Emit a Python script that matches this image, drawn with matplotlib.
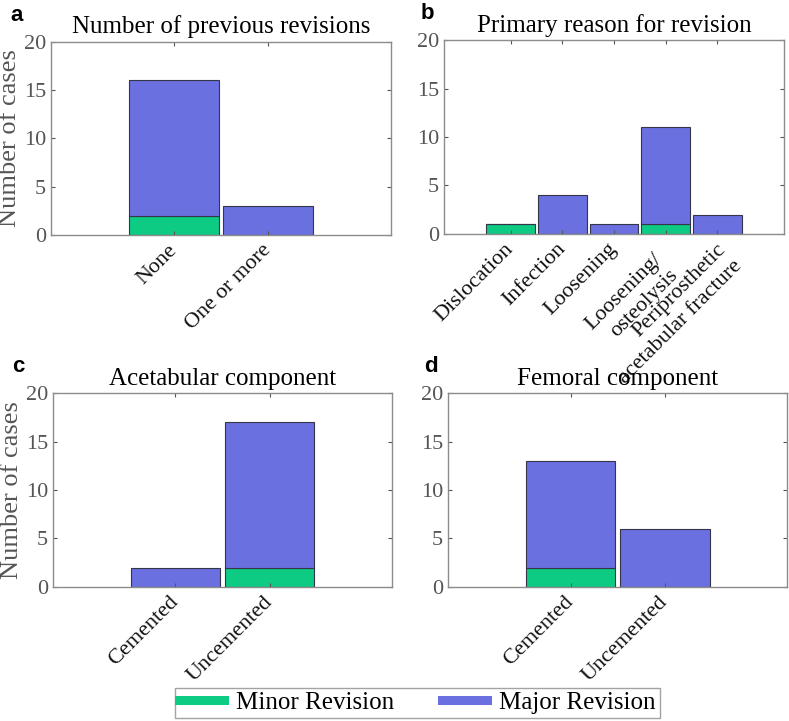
import numpy as np
import matplotlib.pyplot as plt
import matplotlib.transforms as mtransforms
from matplotlib.lines import Line2D

# panel a
prev_cats = ["None", "One or more"]
prev_minor = [2, 0]
prev_major = [14, 3]

# panel b
reason_cats = ["Dislocation", "Infection", "Loosening",
               "Loosening/\nosteolysis", "Periprosthetic\nacetabular fracture"]
reason_minor = [1, 0, 0, 1, 0]
reason_major = [0, 4, 1, 10, 2]

# panel c
acet_cats = ["Cemented", "Uncemented"]
acet_minor = [0, 2]
acet_major = [2, 15]

# panel d
fem_cats = ["Cemented", "Uncemented"]
fem_minor = [2, 0]
fem_major = [11, 6]

GREEN = "#0ecb83"
BLUE = "#6b70e0"
EDGE = "#35354a"

plt.rcParams['font.family'] = ['Liberation Serif', 'DejaVu Serif']


def draw_panel(ax, cats, minor, major, title, letter, ylabel=False, shifts=None):
    x = np.arange(1, len(cats) + 1)
    minor = np.array(minor)
    major = np.array(major)
    ax.bar(x, minor, width=0.95, color=GREEN, edgecolor=EDGE, linewidth=0.8)
    ax.bar(x, major, width=0.95, bottom=minor, color=BLUE, edgecolor=EDGE, linewidth=0.8)
    ax.set_xlim(1 - 1.3, len(cats) + 1.3)
    ax.set_ylim(0, 20)
    ax.set_yticks([0, 5, 10, 15, 20])
    ax.set_xticks(x)
    labels = ax.set_xticklabels(cats, rotation=45, ha='right', va='center',
                                rotation_mode='anchor', fontsize=16, color='#111111',
                                multialignment='right', linespacing=1.25)
    ax.tick_params(axis='x', direction='in', length=3, top=True, pad=9, color='#555555')
    ax.tick_params(axis='y', direction='in', length=3, right=True, labelsize=16,
                   labelcolor='#555555', color='#555555')
    # nudge the two-line labels down/right (pixels, screen y down)
    if shifts:
        for lab, (dx, dy) in zip(labels, shifts):
            off = mtransforms.ScaledTranslation(dx / 100, -dy / 100, ax.figure.dpi_scale_trans)
            lab.set_transform(lab.get_transform() + off)
    for s in ax.spines.values():
        s.set_color('#8c8c8c')
        s.set_linewidth(1.0)
    ax.set_title(title, fontsize=18, pad=6)
    if ylabel:
        ax.set_ylabel("Number of cases", fontsize=19, color='#555555', labelpad=2)
    ax.text(-0.12 if ylabel else -0.07, 1.19, letter, transform=ax.transAxes,
            fontsize=16, fontweight='bold', family='Liberation Sans', va='top')


fig = plt.figure(figsize=(7.89, 7.21), dpi=100)
ax_a = fig.add_axes([0.0646, 0.674, 0.431, 0.268])
ax_b = fig.add_axes([0.5627, 0.6755, 0.431, 0.269])
ax_c = fig.add_axes([0.067, 0.1859, 0.43, 0.269])
ax_d = fig.add_axes([0.5678, 0.1859, 0.43, 0.269])

draw_panel(ax_a, prev_cats, prev_minor, prev_major, "Number of previous revisions", "a", True)
draw_panel(ax_b, reason_cats, reason_minor, reason_major, "Primary reason for revision", "b",
           shifts=[(0, 0), (0, 0), (0, 0), (2, 18), (14, 9)])
draw_panel(ax_c, acet_cats, acet_minor, acet_major, "Acetabular component", "c", True)
draw_panel(ax_d, fem_cats, fem_minor, fem_major, "Femoral component", "d")

handles = [Line2D([], [], color=GREEN, lw=6.5), Line2D([], [], color=BLUE, lw=6.5)]
leg = fig.legend(handles, ["Minor Revision", "Major Revision"], loc='center',
                 bbox_to_anchor=(0.529, 0.025), ncol=2, fontsize=18,
                 frameon=True, fancybox=False, edgecolor='#8c8c8c',
                 handlelength=1.8, handletextpad=0.5, columnspacing=1.9,
                 borderpad=0.15, borderaxespad=0)
leg.get_frame().set_linewidth(1.0)

fig.savefig("out.png", dpi=100)
